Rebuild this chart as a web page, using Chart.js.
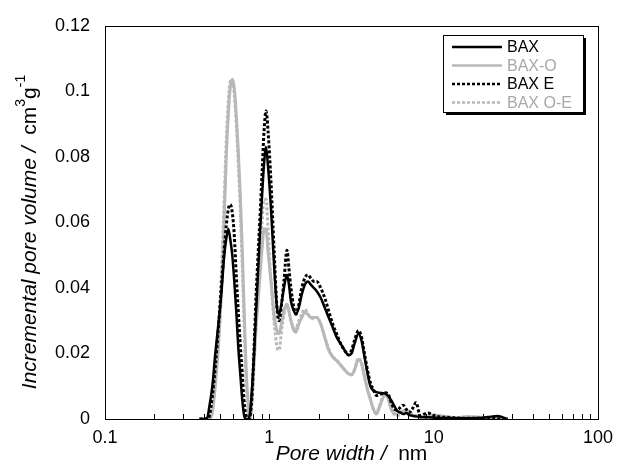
<!DOCTYPE html>
<html>
<head>
<meta charset="utf-8">
<script src="https://cdn.jsdelivr.net/npm/chart.js@4.4.1/dist/chart.umd.min.js"></script>
<style>
  html, body { margin: 0; padding: 0; background: #fff; }
</style>
</head>
<body>
<canvas id="poreChart" width="621" height="468"></canvas>
<script>
// pore width (nm), shared by all four series
const poreWidth = [0.376, 0.403, 0.420, 0.432, 0.450, 0.469, 0.490, 0.510, 0.532, 0.547,
  0.563, 0.578, 0.595, 0.612, 0.629, 0.647, 0.665, 0.684, 0.703, 0.723,
  0.743, 0.764, 0.786, 0.808, 0.831, 0.854, 0.878, 0.903, 0.929, 0.955,
  0.982, 1.024, 1.068, 1.113, 1.145, 1.193, 1.227, 1.280, 1.316, 1.353,
  1.410, 1.450, 1.512, 1.576, 1.644, 1.714, 1.788, 1.864, 1.943, 2.055,
  2.173, 2.297, 2.429, 2.568, 2.715, 2.871, 3.035, 3.165, 3.300, 3.489,
  3.637, 3.792, 3.954, 4.123, 4.299, 4.483, 4.674, 4.873, 5.082, 5.298,
  5.524, 5.760, 6.006, 6.261, 6.530, 6.808, 7.099, 7.401, 7.825, 8.274,
  8.748, 9.249, 10.06, 10.93, 12.22, 14.05, 16.15, 18.56, 21.33, 24.52, 28.19];

const bax = [0, 0, 0.0005, 0.004, 0.010, 0.020, 0.029, 0.038, 0.050, 0.055,
  0.058, 0.055, 0.050, 0.042, 0.033, 0.022, 0.014, 0.006, 0.001, 0,
  0, 0.002, 0.010, 0.020, 0.033, 0.045, 0.057, 0.068, 0.078, 0.083,
  0.077, 0.064, 0.047, 0.034, 0.032, 0.036, 0.040, 0.044, 0.041, 0.036,
  0.033, 0.032, 0.034, 0.038, 0.041, 0.042, 0.041, 0.040, 0.039, 0.037,
  0.034, 0.031, 0.028, 0.025, 0.023, 0.021, 0.0195, 0.020, 0.023, 0.026,
  0.024, 0.019, 0.014, 0.010, 0.0087, 0.0082, 0.008, 0.0079, 0.0078, 0.007,
  0.0057, 0.004, 0.0025, 0.002, 0.0015, 0.0018, 0.0012, 0.001, 0.0008, 0.0006,
  0.0005, 0.0005, 0.0004, 0.0003, 0.0003, 0.0002, 0.0002, 0.0003, 0.0006, 0.0009, 0];

const baxO = [0, 0, 0, 0, 0.002, 0.010, 0.022, 0.038, 0.062, 0.080,
  0.093, 0.101, 0.1037, 0.101, 0.093, 0.082, 0.069, 0.052, 0.033, 0.015,
  0.005, 0, 0.006, 0.017, 0.028, 0.036, 0.044, 0.052, 0.058, 0.058,
  0.051, 0.042, 0.032, 0.027, 0.026, 0.030, 0.033, 0.035, 0.033, 0.030,
  0.027, 0.0265, 0.029, 0.031, 0.0325, 0.032, 0.031, 0.031, 0.031, 0.029,
  0.025, 0.021, 0.019, 0.0178, 0.0165, 0.015, 0.0138, 0.0135, 0.015, 0.0182,
  0.017, 0.013, 0.009, 0.006, 0.003, 0.0015, 0.0035, 0.006, 0.0075, 0.006,
  0.003, 0.0015, 0.0015, 0.002, 0.0025, 0.0027, 0.002, 0.0012, 0.0008, 0.0006,
  0.0008, 0.001, 0.0012, 0.001, 0.0006, 0.0004, 0.0008, 0.0006, 0.0002, 0.0001, 0];

const baxE = [0, 0, 0, 0.001, 0.007, 0.016, 0.028, 0.040, 0.052, 0.059,
  0.064, 0.0655, 0.063, 0.056, 0.044, 0.033, 0.023, 0.014, 0.005, 0.001,
  0, 0.001, 0.008, 0.022, 0.038, 0.050, 0.062, 0.075, 0.088, 0.094,
  0.088, 0.072, 0.052, 0.034, 0.030, 0.036, 0.042, 0.0515, 0.046, 0.040,
  0.034, 0.032, 0.035, 0.040, 0.043, 0.044, 0.043, 0.042, 0.042, 0.040,
  0.037, 0.033, 0.029, 0.026, 0.023, 0.021, 0.0195, 0.021, 0.024, 0.027,
  0.025, 0.020, 0.015, 0.011, 0.009, 0.0072, 0.0075, 0.0078, 0.008, 0.0075,
  0.005, 0.003, 0.0027, 0.0035, 0.0042, 0.003, 0.002, 0.003, 0.005, 0.001,
  0.0015, 0.0018, 0.001, 0.0006, 0.0005, 0.0003, 0.0002, 0.0002, 0.0002, 0.0001, 0];

const baxOE = [0, 0, 0, 0.001, 0.004, 0.013, 0.026, 0.044, 0.068, 0.085,
  0.097, 0.103, 0.1035, 0.099, 0.090, 0.078, 0.064, 0.047, 0.028, 0.011,
  0.003, 0, 0.008, 0.020, 0.032, 0.041, 0.050, 0.060, 0.067, 0.067,
  0.058, 0.042, 0.030, 0.022, 0.021, 0.028, 0.032, 0.035, 0.033, 0.030,
  0.028, 0.0275, 0.030, 0.032, 0.0335, 0.032, 0.031, 0.0305, 0.031, 0.029,
  0.025, 0.0215, 0.019, 0.018, 0.0165, 0.015, 0.0138, 0.0135, 0.015, 0.0185,
  0.017, 0.013, 0.009, 0.006, 0.003, 0.0018, 0.004, 0.0065, 0.0078, 0.006,
  0.003, 0.0015, 0.001, 0.0015, 0.002, 0.0025, 0.002, 0.0015, 0.001, 0.0005,
  0.0005, 0.0006, 0.0005, 0.0004, 0.0003, 0.0002, 0.0002, 0.0001, 0, 0, 0];

const xTicks = [0.1, 1, 10, 100];
const seriesNames = ['BAX', 'BAX-O', 'BAX E', 'BAX O-E'];

const FONT = '"Liberation Sans", Arial, sans-serif';
const BLACK = '#000000';
const GREY = '#b8b8b8';

function pts(ys) {
  return poreWidth.map((w, i) => ({ x: w, y: ys[i] }));
}

const styles = [
  { color: BLACK, dash: [], width: 2.5, order: 2 },
  { color: GREY, dash: [], width: 3, order: 4 },
  { color: BLACK, dash: [3, 2], width: 3, order: 1 },
  { color: GREY, dash: [3, 2], width: 3, order: 3 }
];
const seriesData = [bax, baxO, baxE, baxOE];

// frame, inner minor ticks, axis titles and the shadowed legend box
const decorPlugin = {
  id: 'decor',
  afterDraw(chart) {
    const ctx = chart.ctx;
    const a = chart.chartArea;
    const xs = chart.scales.x;
    ctx.save();

    // ticks pointing up into the plot
    ctx.strokeStyle = '#000';
    ctx.lineWidth = 1;
    ctx.beginPath();
    [0.1, 1, 10].forEach(dec => {
      for (let m = 1; m <= 9; m++) {
        const px = Math.round(xs.getPixelForValue(dec * m)) + 0.5;
        ctx.moveTo(px, a.bottom);
        ctx.lineTo(px, a.bottom - 5);
      }
    });
    ctx.stroke();

    // plot frame
    ctx.strokeRect(Math.round(a.left) + 0.5, Math.round(a.top) + 0.5,
      Math.round(a.right - a.left), Math.round(a.bottom - a.top));

    // x title
    ctx.fillStyle = '#000';
    ctx.textBaseline = 'middle';
    ctx.textAlign = 'left';
    const itFont = 'italic 21px ' + FONT;
    const upFont = '21px ' + FONT;
    ctx.font = itFont;
    const p1 = 'Pore width / ';
    const w1 = ctx.measureText(p1).width;
    ctx.font = upFont;
    const p2 = ' nm';
    const w2 = ctx.measureText(p2).width;
    const sx = (a.left + a.right) / 2 - (w1 + w2) / 2;
    ctx.font = itFont;
    ctx.fillText(p1, sx, 454);
    ctx.font = upFont;
    ctx.fillText(p2, sx + w1, 454);

    // y title (rotated)
    ctx.save();
    ctx.translate(30, 232);
    ctx.rotate(-Math.PI / 2);
    const parts = [
      { t: 'Incremental pore volume / ', f: itFont, dy: 0 },
      { t: ' cm', f: upFont, dy: 0 },
      { t: '3', f: '14px ' + FONT, dy: -9 },
      { t: 'g', f: upFont, dy: 0 },
      { t: '-1', f: '14px ' + FONT, dy: -9 }
    ];
    let total = 0;
    parts.forEach(p => { ctx.font = p.f; p.w = ctx.measureText(p.t).width; total += p.w; });
    let cx = -total / 2;
    parts.forEach(p => {
      ctx.font = p.f;
      ctx.fillText(p.t, cx, p.dy);
      cx += p.w;
    });
    ctx.restore();

    // legend box with drop shadow
    const lx = 443, ly = 35, lw = 140, lh = 77;
    ctx.fillStyle = '#000';
    ctx.fillRect(lx + 3, ly + 3, lw, lh);
    ctx.fillStyle = '#fff';
    ctx.fillRect(lx, ly, lw, lh);
    ctx.strokeStyle = '#000';
    ctx.lineWidth = 1;
    ctx.strokeRect(lx + 0.5, ly + 0.5, lw, lh);
    ctx.font = '16px ' + FONT;
    seriesNames.forEach((name, i) => {
      const st = styles[i];
      const ry = ly + 12 + i * 18.5;
      ctx.strokeStyle = st.color;
      ctx.lineWidth = 2.5;
      ctx.setLineDash(st.dash);
      ctx.beginPath();
      ctx.moveTo(452, ry);
      ctx.lineTo(502, ry);
      ctx.stroke();
      ctx.setLineDash([]);
      ctx.fillStyle = st.color === GREY ? '#a8a8a8' : '#000';
      ctx.fillText(name, 507, ry + 1);
    });
    ctx.restore();
  }
};

const ctx = document.getElementById('poreChart').getContext('2d');
const poreChart = new Chart(ctx, {
  type: 'line',
  data: {
    datasets: seriesNames.map((name, i) => ({
      label: name,
      data: pts(seriesData[i]),
      borderColor: styles[i].color,
      borderWidth: styles[i].width,
      borderDash: styles[i].dash,
      pointRadius: 0,
      fill: false,
      cubicInterpolationMode: 'monotone',
      order: styles[i].order
    }))
  },
  options: {
    responsive: false,
    animation: false,
    layout: { padding: { left: 0, right: 20, top: 21, bottom: 0 } },
    plugins: {
      legend: { display: false },
      tooltip: { enabled: false }
    },
    scales: {
      x: {
        type: 'logarithmic',
        min: 0.1,
        max: 100,
        grid: { display: false, drawTicks: false },
        border: { display: false },
        afterBuildTicks: s => { s.ticks = xTicks.map(v => ({ value: v })); },
        afterFit: s => { s.height = 49; },
        ticks: {
          autoSkip: false,
          maxRotation: 0,
          padding: 8,
          color: '#000',
          font: { family: FONT, size: 18 },
          callback: v => String(v)
        }
      },
      y: {
        min: 0,
        max: 0.12,
        grid: { display: false, drawTicks: false },
        border: { display: false },
        afterFit: s => { s.width = 105; },
        ticks: {
          stepSize: 0.02,
          padding: 15,
          color: '#000',
          font: { family: FONT, size: 18 },
          callback: v => String(+v.toFixed(2))
        }
      }
    }
  },
  plugins: [decorPlugin]
});
</script>
</body>
</html>
